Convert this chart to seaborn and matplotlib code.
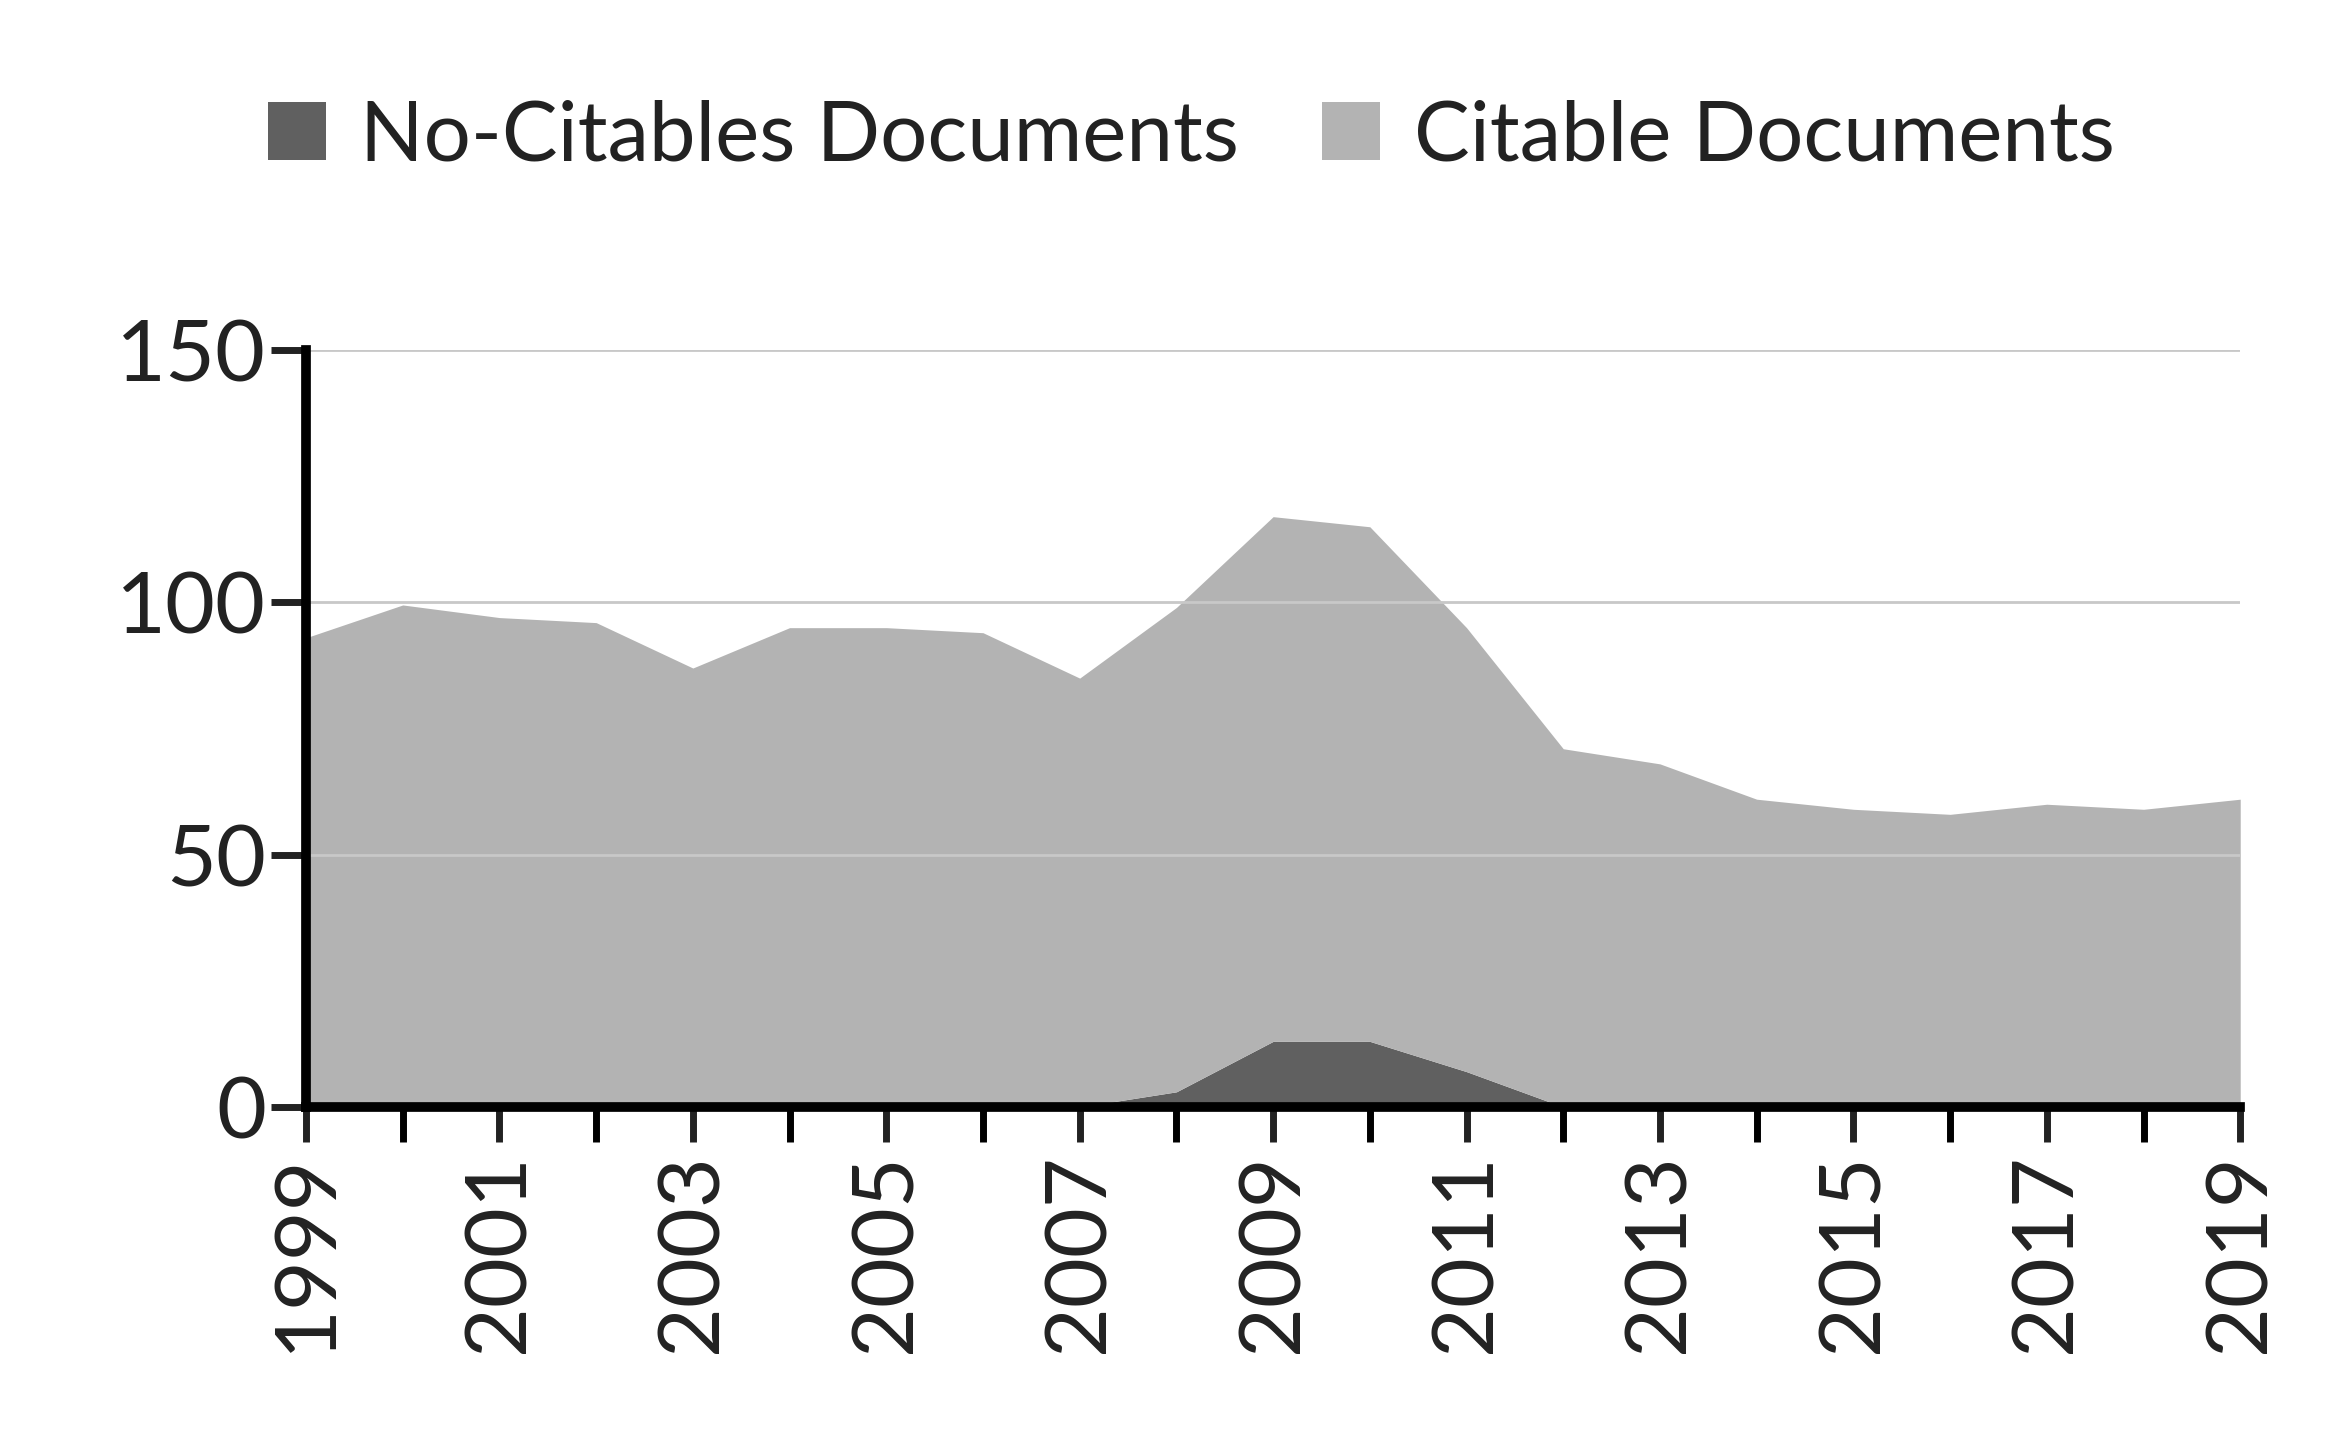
import matplotlib
matplotlib.use("Agg")
import matplotlib.pyplot as plt
import seaborn as sns
import numpy as np

years = list(range(1999, 2020))
total = [93, 99.5, 97, 96, 87, 95, 95, 94, 85, 99, 117, 115, 95, 71, 68, 61, 59, 58, 60, 59, 61]
no_citable = [0, 0, 0, 0, 0, 0, 0, 0, 0, 3, 13, 13, 7, 0, 0, 0, 0, 0, 0, 0, 0]
citable = [t - n for t, n in zip(total, no_citable)]

sns.set_theme(style="white")
plt.rcParams['font.family'] = ['Lato', 'DejaVu Sans']

fig = plt.figure(figsize=(23.36, 14.47), dpi=100)
ax = fig.add_axes([0.131, 0.235, 0.828, 0.523])
ax.stackplot(years, no_citable, citable, colors=["#606060", "#b3b3b3"],
             labels=["No-Citables Documents", "Citable Documents"], linewidth=0)
ax.set_xlim(1999, 2019)
ax.set_ylim(0, 150)
ax.set_yticks([0, 50, 100, 150])
ax.yaxis.grid(True, color="#c8c8c8", linewidth=2)
ax.set_axisbelow(False)
for l in ax.yaxis.get_gridlines():
    l.set_zorder(0.5)
ax.set_xticks(years, minor=True)
ax.set_xticks(years[::2])
ax.set_xticklabels([str(y) for y in years[::2]], rotation=90)
ax.tick_params(axis='x', which='both', direction='out', length=25, width=5, color='black', bottom=True)
ax.tick_params(axis='y', direction='out', length=25, width=5, color='black', left=True)
ax.tick_params(labelsize=62, colors='#222222')
ax.tick_params(axis='x', pad=8)
for s in ['top', 'right']:
    ax.spines[s].set_visible(False)
for s in ['left', 'bottom']:
    ax.spines[s].set_color('black')
    ax.spines[s].set_linewidth(7)
    ax.spines[s].set_zorder(5)
leg = fig.legend(loc='center', bbox_to_anchor=(0.51, 0.905), ncol=2, frameon=False,
                 fontsize=60, handlelength=0.7, handleheight=0.7, columnspacing=1.0, handletextpad=0.4)
for t in leg.get_texts():
    t.set_color('#222222')
fig.savefig("out.png", dpi=100)
